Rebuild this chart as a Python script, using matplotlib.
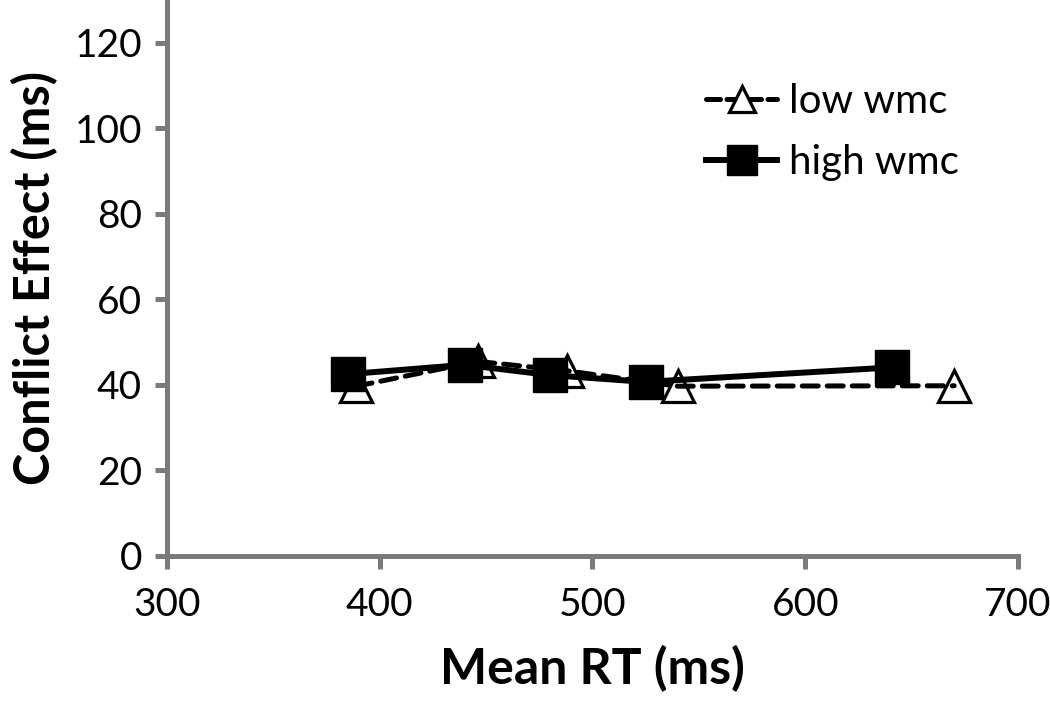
import matplotlib
matplotlib.use("Agg")
import matplotlib.pyplot as plt
from matplotlib.lines import Line2D

plt.rcParams['font.family'] = ['Lato', 'DejaVu Sans']

# Data
low_x = [389, 446, 488, 540, 670]
low_y = [39.7, 45.5, 43.3, 39.7, 39.8]
high_x = [385, 440, 480, 525, 641]
high_y = [42.5, 44.7, 42.3, 40.7, 44.1]
x_ticks = [300, 400, 500, 600, 700]
y_ticks = [0, 20, 40, 60, 80, 100, 120]
series_labels = ["low wmc", "high wmc"]
x_label = "Mean RT (ms)"
y_label = "Conflict Effect (ms)"

fig = plt.figure(figsize=(10.5, 7.06), dpi=100)
ax = fig.add_axes([0.159, 0.2125, 0.9695 - 0.159, 0.7875])

# low wmc: markers, then dashed line on top
ax.plot(low_x, low_y, linestyle='none', marker='^', markersize=23,
        markerfacecolor='white', markeredgecolor='black', markeredgewidth=2.3, zorder=2)
ax.plot(low_x, low_y, linestyle=(0, (3.2, 1.8)), color='black', linewidth=3.6,
        dash_capstyle='round', zorder=3)
# high wmc
ax.plot(high_x, high_y, linestyle='-', color='black', linewidth=4.3, zorder=4)
ax.plot(high_x, high_y, linestyle='none', marker='s', markersize=24,
        markerfacecolor='black', markeredgecolor='black', zorder=5)

ax.set_xlim(300, 700)
ax.set_ylim(0, 130)
ax.set_xticks(x_ticks)
ax.set_yticks(y_ticks)

spine_color = '#7a7a7a'
for s in ['top', 'right']:
    ax.spines[s].set_visible(False)
for s in ['left', 'bottom']:
    ax.spines[s].set_color(spine_color)
    ax.spines[s].set_linewidth(3.6)
ax.tick_params(axis='both', direction='out', length=9, width=3.6, color=spine_color,
               labelsize=28, labelcolor='black')
ax.tick_params(axis='x', pad=13)
ax.tick_params(axis='y', pad=9)

ax.set_xlabel(x_label, fontsize=36, fontweight='bold', labelpad=16)
ax.set_ylabel(y_label, fontsize=35, fontweight='bold', labelpad=12)

handles = [
    Line2D([], [], linestyle=(0, (2.8, 1.3)), color='black', linewidth=3.6, marker='^',
           markersize=19, markerfacecolor='white', markeredgecolor='black', markeredgewidth=2.3,
           dash_capstyle='round'),
    Line2D([], [], linestyle='-', color='black', linewidth=4.3, marker='s',
           markersize=21, markerfacecolor='black', markeredgecolor='black'),
]
leg = ax.legend(handles, series_labels, loc='upper left', bbox_to_anchor=(0.615, 0.88),
                frameon=False, fontsize=29, handlelength=1.75, handletextpad=0.3,
                labelspacing=0.6, borderaxespad=0)

fig.savefig("out.png", dpi=100)
